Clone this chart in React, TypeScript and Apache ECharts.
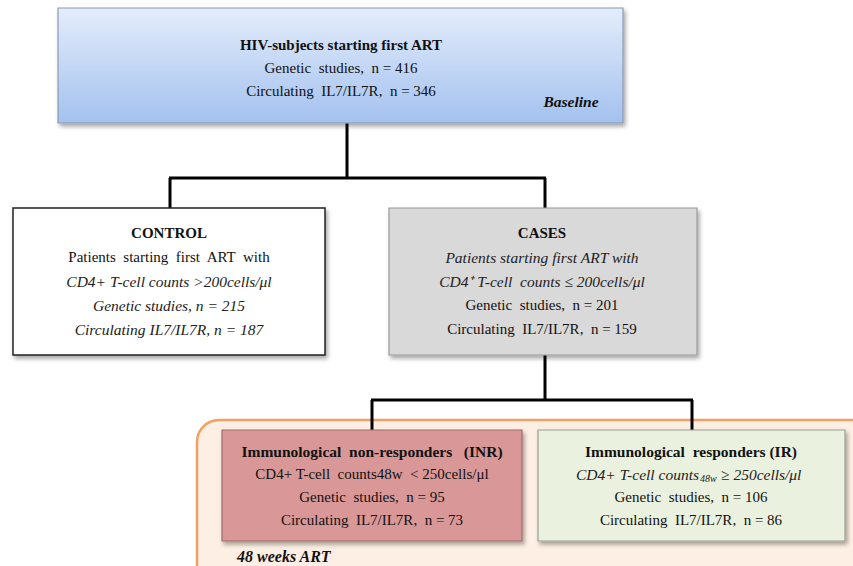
import React, { useEffect, useRef } from "react";
import * as echarts from "echarts";

const boxTitles = [
  "HIV-subjects starting first ART",
  "CONTROL",
  "CASES",
  "Immunological  non-responders   (INR)",
  "Immunological  responders (IR)",
];
const geneticN = [416, 215, 201, 95, 106];
const circulatingN = [346, 187, 159, 73, 86];
const stageLabels = ["Baseline", "48 weeks ART"];

const FONT = "Liberation Serif";
const FS = 15;

const STY: Record<string, any> = {
  n: { fontWeight: "normal", fontStyle: "normal", fill: "#111" },
  b: { fontWeight: "bold", fontStyle: "normal", fill: "#111" },
  i: { fontWeight: "normal", fontStyle: "italic", fill: "#222" },
  bi: { fontWeight: "bold", fontStyle: "italic", fill: "#111" },
};

function line(x: number, y: number, kind: string, text: string, align = "center", fs = FS) {
  return {
    type: "text",
    x,
    y,
    z: 10,
    style: {
      text,
      align,
      verticalAlign: "middle",
      fontFamily: FONT,
      fontSize: fs,
      ...STY[kind],
    },
  };
}

function box(x: number, y: number, w: number, h: number, fill: any, stroke: string, lw = 1.2) {
  return {
    type: "rect",
    shape: { x, y, width: w, height: h },
    z: 5,
    style: {
      fill,
      stroke,
      lineWidth: lw,
      shadowBlur: 4,
      shadowOffsetX: 2,
      shadowOffsetY: 3,
      shadowColor: "rgba(0,0,0,0.35)",
    },
  };
}

function seg(x1: number, y1: number, x2: number, y2: number) {
  return {
    type: "line",
    z: 4,
    shape: { x1, y1, x2, y2 },
    style: { stroke: "#000", lineWidth: 3 },
  };
}

export default function App() {
  const ref = useRef<HTMLDivElement>(null);
  useEffect(() => {
    document.body.style.margin = "0";
    const chart = echarts.init(ref.current!, null, { renderer: "svg" });
    const g: any[] = [];

    g.push({
      type: "rect",
      z: 1,
      shape: { x: 197, y: 420, width: 690, height: 175, r: 22 },
      style: { fill: "#fdefe3", stroke: "#f0a060", lineWidth: 2.5 },
    });

    g.push(seg(347, 123, 347, 179));
    g.push(seg(169, 178, 546, 178));
    g.push(seg(170, 178, 170, 208));
    g.push(seg(545, 178, 545, 208));
    g.push(seg(545, 355, 545, 401));
    g.push(seg(371, 400, 693, 400));
    g.push(seg(372, 400, 372, 430));
    g.push(seg(692, 400, 692, 430));

    g.push(
      box(58, 8, 565, 115, new echarts.graphic.LinearGradient(0, 0, 0, 1, [
        { offset: 0, color: "#e4edfb" },
        { offset: 1, color: "#a3c1ef" },
      ]), "#8a9bb5")
    );
    g.push(box(13, 208, 312, 147, "#ffffff", "#222", 1.5));
    g.push(box(389, 208, 308, 147, "#d9d9d9", "#999", 1.2));
    g.push(box(222, 430, 300, 111, "#d99897", "#a06a6a", 1.2));
    g.push(box(538, 430, 307, 111, "#ebf1df", "#9aa08f", 1.2));

    const cx0 = 341;
    g.push(line(cx0, 45, "b", boxTitles[0]));
    g.push(line(cx0, 68, "n", `Genetic  studies,  n = ${geneticN[0]}`));
    g.push(line(cx0, 91, "n", `Circulating  IL7/IL7R,  n = ${circulatingN[0]}`));
    g.push(line(571, 101, "bi", stageLabels[0], "center", 15.5));

    const cx1 = 169;
    g.push(line(cx1, 233, "b", boxTitles[1]));
    g.push(line(cx1, 257, "n", "Patients  starting  first  ART  with"));
    g.push(line(cx1, 281, "i", "CD4+ T-cell counts >200cells/μl", "center", 15.5));
    g.push(line(cx1, 305, "i", `Genetic studies, n = ${geneticN[1]}`, "center", 15.5));
    g.push(line(cx1, 329, "i", `Circulating IL7/IL7R, n = ${circulatingN[1]}`, "center", 15.5));

    const cx2 = 542;
    g.push(line(cx2, 233, "b", boxTitles[2]));
    g.push(line(cx2, 257, "i", "Patients starting first ART with", "center", 15.5));
    g.push(line(cx2, 281, "i", "CD4\u207A T-cell  counts ≤ 200cells/μl", "center", 15.5));
    g.push(line(cx2, 305, "n", `Genetic  studies,  n = ${geneticN[2]}`));
    g.push(line(cx2, 329, "n", `Circulating  IL7/IL7R,  n = ${circulatingN[2]}`));

    const cx3 = 372;
    g.push(line(cx3, 451, "b", boxTitles[3], "center", 15.5));
    g.push(line(cx3, 474, "n", "CD4+ T-cell  counts48w  < 250cells/μl"));
    g.push(line(cx3, 497, "n", `Genetic  studies,  n = ${geneticN[3]}`));
    g.push(line(cx3, 520, "n", `Circulating  IL7/IL7R,  n = ${circulatingN[3]}`));

    const cx4 = 691;
    g.push(line(cx4, 451, "b", boxTitles[4], "center", 15.5));
    g.push(line(699, 474, "i", "CD4+ T-cell counts", "right", 15.5));
    g.push({
      type: "text",
      x: 700,
      y: 478,
      z: 10,
      style: { text: "48w", align: "left", verticalAlign: "middle", fontFamily: FONT, fontSize: 10, fontStyle: "italic", fill: "#222" },
    });
    g.push(line(721, 474, "i", "≥ 250cells/μl", "left", 15.5));
    g.push(line(cx4, 497, "n", `Genetic  studies,  n = ${geneticN[4]}`));
    g.push(line(cx4, 520, "n", `Circulating  IL7/IL7R,  n = ${circulatingN[4]}`));

    g.push(line(237, 556, "bi", stageLabels[1], "left", 16));

    chart.setOption({
      animation: false,
      backgroundColor: "#ffffff",
      graphic: g,
    });
    return () => chart.dispose();
  }, []);
  return <div ref={ref} style={{ width: 853, height: 566 }} />;
}
